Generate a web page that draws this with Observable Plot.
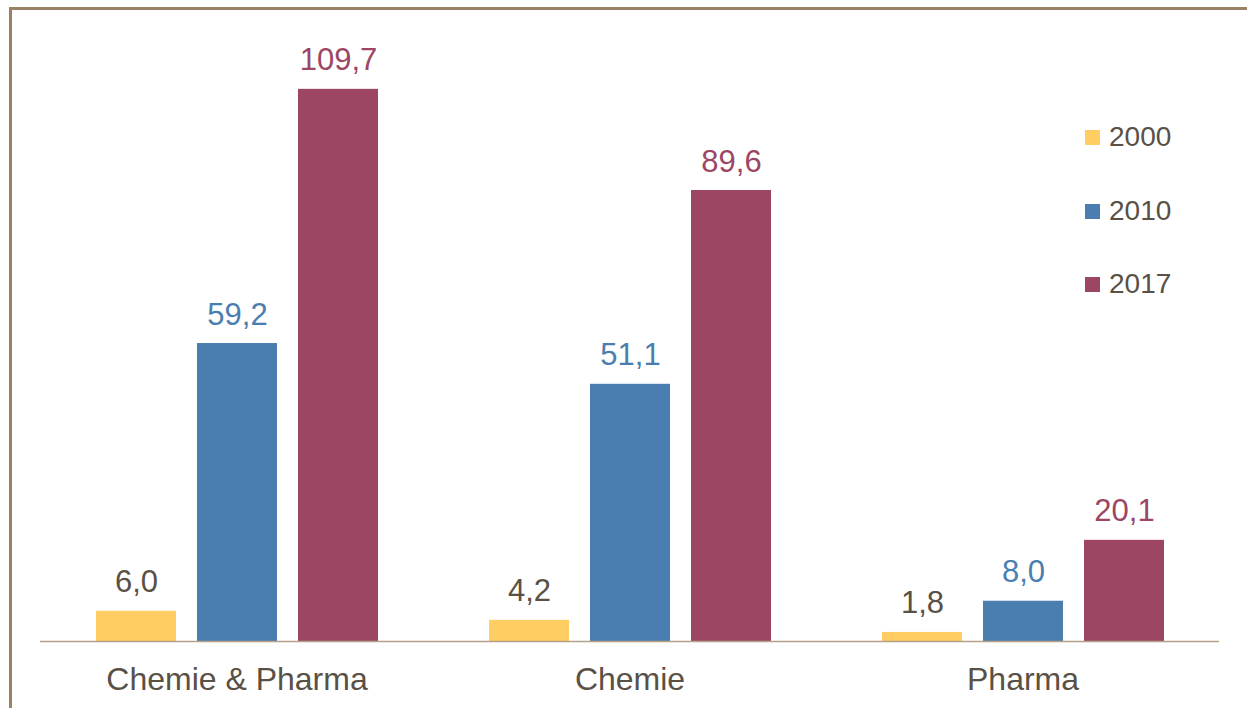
<!DOCTYPE html>
<html>
<head>
<meta charset="utf-8">
<script src="https://cdn.jsdelivr.net/npm/d3@7"></script>
<script src="https://cdn.jsdelivr.net/npm/@observablehq/plot@0.6"></script>
<style>
  html, body { margin: 0; padding: 0; background: #fff; overflow: hidden; }
  #wrap { position: relative; width: 1247px; height: 708px; font-family: "Liberation Sans", Arial, sans-serif; }
  #frame { position: absolute; left: 9px; top: 7px; right: -5px; bottom: -5px; border-top: 3px solid #9a8266; border-left: 3px solid #9a8266; }
  #chart { position: absolute; left: 0; top: 0; }
  #legend { position: absolute; left: 1085px; top: 0; }
  .li { position: absolute; left: 0; display: flex; align-items: center; white-space: nowrap; }
  .sw { width: 15px; height: 15px; margin-right: 9px; }
  .lt { font-size: 28px; color: #595046; line-height: 1; }
</style>
</head>
<body>
<div id="wrap">
  <div id="frame"></div>
  <div id="chart"></div>
  <div id="legend"></div>
</div>
<script>
const categories = ["Chemie & Pharma", "Chemie", "Pharma"];
const years = ["2000", "2010", "2017"];
const values2000 = [6.0, 4.2, 1.8];
const values2010 = [59.2, 51.1, 8.0];
const values2017 = [109.7, 89.6, 20.1];
const barColors = ["#FFCD61", "#4A7EB0", "#9C4664"];
const labelColors = ["#595046", "#4A7EB0", "#9C4664"];

const series = [values2000, values2010, values2017];
const data = [];
categories.forEach((c, i) => years.forEach((y, j) => data.push({category: c, year: y, value: series[j][i]})));

const fmt = v => v.toFixed(1).replace(".", ",");

const marks = [];
years.forEach((y, j) => {
  const sub = data.filter(d => d.year === y);
  marks.push(Plot.barY(sub, {fx: "category", x: "year", y: "value", fill: barColors[j]}));
  marks.push(Plot.text(sub, {fx: "category", x: "year", y: "value", text: d => fmt(d.value), fill: labelColors[j], lineAnchor: "bottom", dy: -19, fontSize: 31}));
});
marks.push(Plot.ruleY([0], {stroke: "#b5a089", strokeWidth: 1.5}));

const chart = Plot.plot({
  width: 1247,
  height: 708,
  marginLeft: 39,
  marginRight: 28,
  marginTop: 37,
  marginBottom: 67,
  style: {fontFamily: "'Liberation Sans', Arial, sans-serif", background: "transparent", overflow: "visible"},
  fx: {domain: categories, paddingInner: 0, paddingOuter: 0, label: null, axis: "bottom", tickSize: 0, tickPadding: 26, fontSize: 32},
  x: {domain: years, paddingInner: 0.208, paddingOuter: 0.549, axis: null},
  y: {domain: [0, 120], axis: null},
  marks
});
const fxAxis = chart.querySelector("g[aria-label='fx-axis tick label']");
if (fxAxis) { fxAxis.setAttribute("fill", "#595046"); fxAxis.setAttribute("font-size", "32"); }
document.getElementById("chart").appendChild(chart);

const centers = [137, 211, 284];
const legend = document.getElementById("legend");
years.forEach((y, j) => {
  const item = document.createElement("div");
  item.className = "li";
  item.style.top = (centers[j] - 16) + "px";
  item.style.height = "32px";
  item.innerHTML = `<div class="sw" style="background:${barColors[j]}"></div><div class="lt">${y}</div>`;
  legend.appendChild(item);
});
</script>
</body>
</html>
